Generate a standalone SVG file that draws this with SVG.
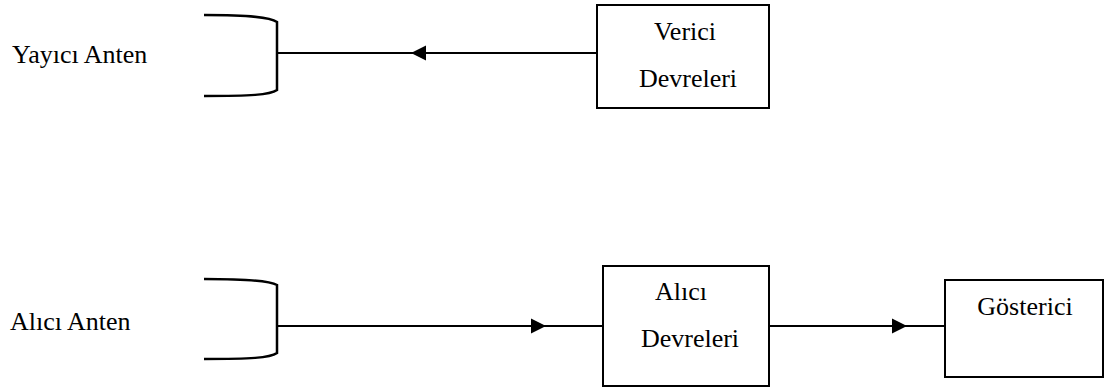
<svg xmlns="http://www.w3.org/2000/svg" width="1106" height="388" viewBox="0 0 1106 388">
  <style>
    .bg { fill: #ffffff; }
    .box { fill: #ffffff; stroke: #000000; stroke-width: 2; }
    .ant { fill: none; stroke: #000000; stroke-width: 2.5; }
    .wire { fill: none; stroke: #000000; stroke-width: 2; }
  </style>
  <defs>
    <marker id="tri" markerWidth="16" markerHeight="16" refX="15" refY="8" orient="auto" markerUnits="userSpaceOnUse">
      <path d="M0,0.5 L15,8 L0,15.5 Z" fill="#000000"/>
    </marker>
  </defs>
  <rect class="bg" x="0" y="0" width="1106" height="388"/>

  <!-- signal connectors -->
  <g id="connectors">
    <path class="wire" d="M597,53 L411,53 L277,53" marker-mid="url(#tri)"/>
    <path class="wire" d="M277,326 L546,326 L603,326" marker-mid="url(#tri)"/>
    <path class="wire" d="M769,326 L907,326 L945,326" marker-mid="url(#tri)"/>
  </g>

  <g font-family="Liberation Serif, Times New Roman, serif" font-size="26" fill="#000000">
    <!-- transmitting antenna -->
    <g id="yayici-anten">
      <path class="ant" d="M204,15 C250,15 270,17 277,22 L277,90 C270,95 250,96 204,96"/>
      <text x="12" y="63">Yayıcı Anten</text>
    </g>

    <!-- transmitter circuits -->
    <g id="verici-devreleri">
      <rect class="box" x="597" y="5" width="172" height="103"/>
      <text x="685" y="40" text-anchor="middle">Verici</text>
      <text x="688" y="87" text-anchor="middle">Devreleri</text>
    </g>

    <!-- receiving antenna -->
    <g id="alici-anten">
      <path class="ant" d="M204,279 C250,279 270,281 277,285 L277,353 C270,358 250,359 204,359"/>
      <text x="10" y="330">Alıcı Anten</text>
    </g>

    <!-- receiver circuits -->
    <g id="alici-devreleri">
      <rect class="box" x="603" y="266" width="166" height="120"/>
      <text x="681" y="300" text-anchor="middle">Alıcı</text>
      <text x="690" y="347" text-anchor="middle">Devreleri</text>
    </g>

    <!-- display -->
    <g id="gosterici">
      <rect class="box" x="945" y="280" width="158" height="97"/>
      <text x="1025" y="315" text-anchor="middle">Gösterici</text>
    </g>
  </g>
</svg>
